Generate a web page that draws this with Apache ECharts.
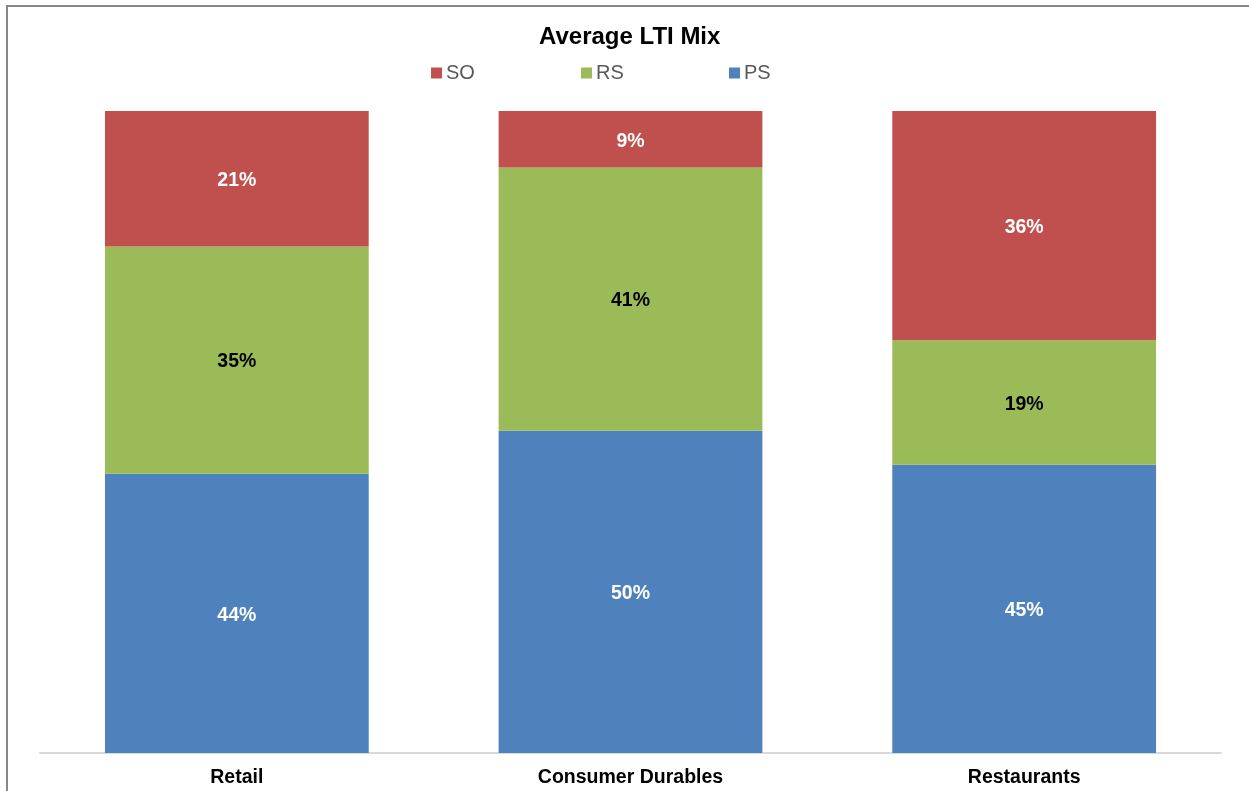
<!DOCTYPE html>
<html>
<head>
<meta charset="utf-8">
<script src="https://cdn.jsdelivr.net/npm/echarts@6/dist/echarts.min.js"></script>
<style>
html,body{margin:0;padding:0;background:#fff;}
#chart{width:1249px;height:791px;}
</style>
</head>
<body>
<div id="chart"></div>
<script>
const categories = ['Retail', 'Consumer Durables', 'Restaurants'];
const psValues = [43.5, 50.2, 44.9];
const rsValues = [35.4, 41.0, 19.4];
const soValues = [21.1, 8.8, 35.7];
const seriesNames = ['SO', 'RS', 'PS'];

const colors = { SO: '#C0504D', RS: '#9BBB59', PS: '#4F81BD' };
const FONT = '"Liberation Sans", Arial, sans-serif';

const chart = echarts.init(document.getElementById('chart'));

function lbl(color) {
  return {
    show: true,
    position: 'inside',
    offset: [0, 2],
    color: color,
    fontFamily: FONT,
    fontWeight: 'bold',
    fontSize: 19.5,
    formatter: p => Math.round(p.value) + '%'
  };
}

const legendPos = [426, 576, 724];
const legends = seriesNames.map((n, i) => ({
  data: [n],
  left: legendPos[i],
  top: 58,
  icon: 'rect',
  itemWidth: 11,
  itemHeight: 11,
  itemGap: 6,
  textStyle: { fontFamily: FONT, fontSize: 20, color: '#595959', padding: [0, 0, 0, -1] },
  selectedMode: false
}));

chart.setOption({
  animation: false,
  backgroundColor: '#fff',
  title: {
    text: 'Average LTI Mix',
    left: 534,
    top: 20,
    textStyle: { fontFamily: FONT, fontSize: 24, fontWeight: 'bold', color: '#000' }
  },
  graphic: [{
    type: 'rect',
    shape: { x: 7, y: 6, width: 1400, height: 1000 },
    style: { fill: 'none', stroke: '#878787', lineWidth: 2 },
    silent: true
  }],
  legend: legends,
  grid: { left: 40, right: 28, top: 111, bottom: 38 },
  xAxis: {
    type: 'category',
    data: categories,
    axisLine: { lineStyle: { color: '#D9D9D9', width: 2 } },
    axisTick: { show: false },
    axisLabel: { fontFamily: FONT, fontSize: 19.5, fontWeight: 'bold', color: '#000', margin: 15 }
  },
  yAxis: {
    type: 'value',
    min: 0,
    max: 100,
    show: false,
    splitLine: { show: false }
  },
  series: [
    { name: 'PS', type: 'bar', stack: 't', data: psValues, barCategoryGap: '33%', itemStyle: { color: colors.PS }, label: lbl('#fff') },
    { name: 'RS', type: 'bar', stack: 't', data: rsValues, itemStyle: { color: colors.RS }, label: lbl('#000') },
    { name: 'SO', type: 'bar', stack: 't', data: soValues, itemStyle: { color: colors.SO }, label: lbl('#fff') }
  ]
});
</script>
</body>
</html>
